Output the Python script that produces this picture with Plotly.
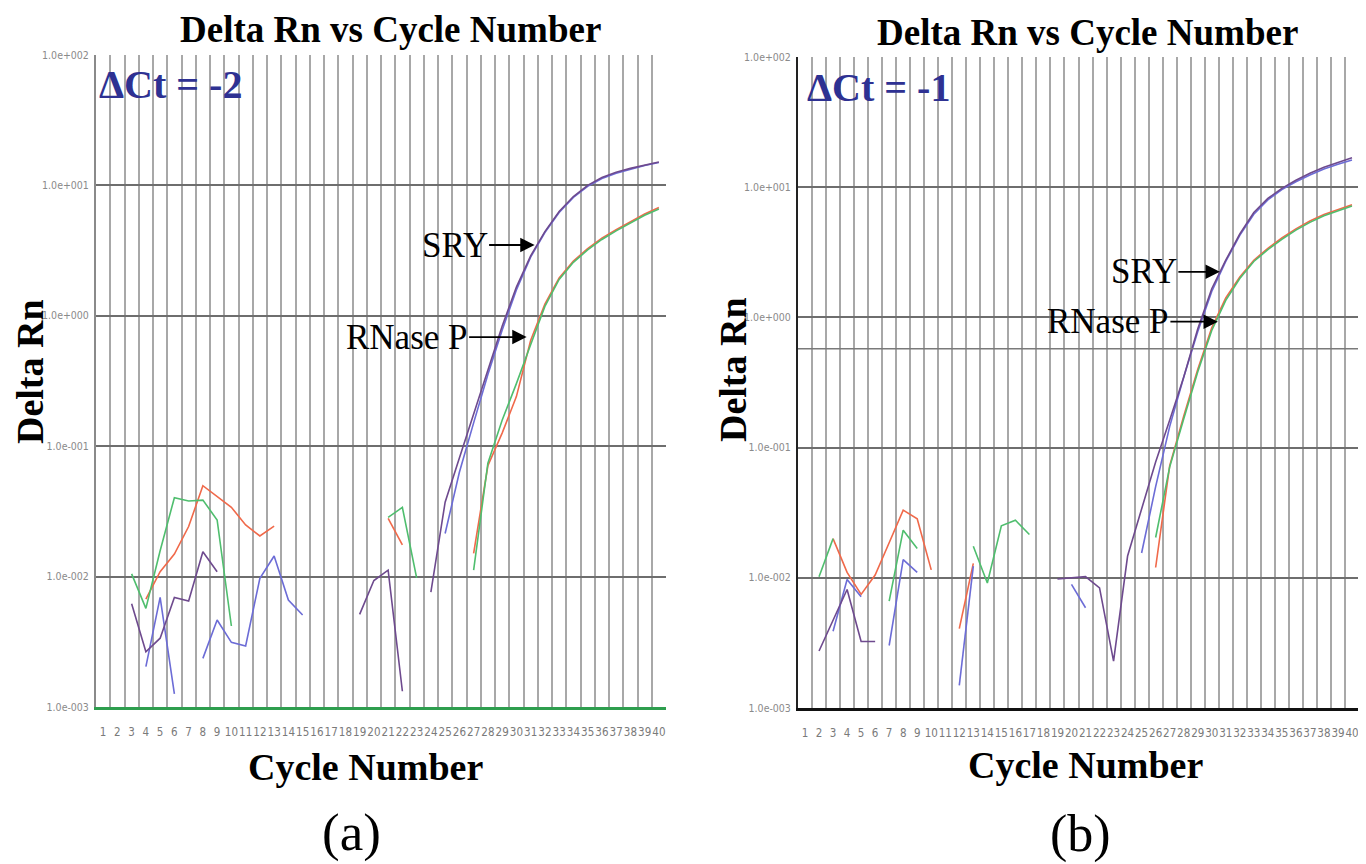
import math
import plotly.graph_objects as go

# ---------------- data (Delta Rn per cycle, None = not plotted) ----------------
cycles = list(range(1, 41))
N = None

# panel (a)  ΔCt = -2
a_sry1 = [N, N, 0.0062, 0.00265, 0.00337, 0.00693, 0.0065, 0.0155, 0.0109, N,
          N, N, N, N, N, N, N, N, 0.00513, 0.00933,
          0.0112, 0.00132, N, 0.00759, 0.0372, 0.0813, 0.178, 0.389, 0.832, 1.66,
          2.88, 4.42, 6.31, 8.22, 10.0, 11.5, 12.6, 13.5, 14.35, 15.1]
a_sry2 = [N, N, N, 0.00204, 0.00693, 0.00126, N, 0.00236, 0.00465, 0.00313,
          0.00294, 0.0097, 0.0144, 0.00662, 0.00508, N, N, N, N, N,
          N, N, N, N, 0.0214, 0.0631, 0.151, 0.355, 0.776, 1.58,
          2.82, 4.35, 6.2, 8.1, 9.85, 11.3, 12.4, 13.3, 14.2, 14.96]
a_rnp1 = [N, N, N, 0.00673, 0.0109, 0.0149, 0.0242, 0.0498, 0.041, 0.034,
          0.0249, 0.0205, 0.0244, N, N, N, N, N, N, N,
          0.028, 0.0175, N, N, N, N, 0.0151, 0.0708, 0.126, 0.24,
          0.646, 1.23, 1.95, 2.63, 3.27, 3.94, 4.57, 5.25, 6.03, 6.76]
a_rnp2 = [N, N, 0.0105, 0.00571, 0.0158, 0.0403, 0.038, 0.0386, 0.0272, 0.00418,
          N, N, N, N, N, N, N, N, N, N,
          0.0285, 0.0339, 0.00977, N, N, N, 0.0112, 0.0741, 0.158, 0.302,
          0.60, 1.18, 1.9, 2.57, 3.2, 3.85, 4.48, 5.15, 5.9, 6.6]

# panel (b)  ΔCt = -1
b_sry1 = [N, 0.00274, 0.00468, 0.00813, 0.00324, 0.00324, N, N, N, N,
          N, N, N, N, N, N, N, N, 0.0098, 0.0100,
          0.0102, 0.00837, 0.00229, 0.0147, 0.0334, 0.0776, 0.162, 0.347, 0.813, 1.66,
          2.75, 4.37, 6.4, 8.2, 9.8, 11.3, 12.8, 14.2, 15.5, 16.8]
b_sry2 = [N, N, 0.00389, 0.0097, 0.00714, N, 0.00302, 0.0138, 0.011, N,
          N, 0.00149, 0.0123, N, N, N, N, N, N, 0.00891,
          0.00589, N, N, N, 0.0155, 0.0501, 0.145, 0.347, 0.776, 1.58,
          2.69, 4.27, 6.2, 8.0, 9.6, 11.0, 12.4, 13.8, 15.0, 16.2]
b_rnp1 = [N, N, 0.020, 0.011, 0.00745, 0.0105, 0.0186, 0.0331, 0.0284, 0.0115,
          N, 0.00407, 0.0129, N, N, N, N, N, N, N,
          N, N, N, N, N, 0.012, 0.0724, 0.174, 0.398, 0.832,
          1.41, 2.04, 2.75, 3.39, 4.07, 4.79, 5.5, 6.17, 6.76, 7.33]
b_rnp2 = [N, 0.0102, 0.020, N, N, N, 0.00661, 0.0232, 0.0168, N,
          N, N, 0.0175, 0.00912, 0.0251, 0.0277, 0.0215, N, N, N,
          N, N, N, N, N, 0.0204, 0.0708, 0.166, 0.38, 0.794,
          1.35, 1.99, 2.69, 3.31, 3.98, 4.68, 5.37, 6.03, 6.61, 7.16]

b_threshold = 0.575

ytick_vals = [0.001, 0.01, 0.1, 1, 10, 100]
ytick_text = ["1.0e-003", "1.0e-002", "1.0e-001", "1.0e+000", "1.0e+001", "1.0e+002"]

# ---------------- styling ----------------
C_PURPLE = "#6E4A8E"
C_BLUE = "#6C6CD6"
C_ORANGE = "#F0694A"
C_GREEN = "#4FBE6E"
SERIF = "Liberation Serif, Times New Roman, serif"
NARROW = "DejaVu Sans Condensed, Liberation Sans Narrow, Arial Narrow, sans-serif"

W, H = 1366, 864
OFF = 8  # page body margin


def px_x(p):
    return (p - OFF) / W


def px_y(p):
    return 1 - (p - OFF) / H


fig = go.Figure()

series_a = [(a_rnp1, C_ORANGE), (a_rnp2, C_GREEN), (a_sry2, C_BLUE), (a_sry1, C_PURPLE)]
series_b = [(b_rnp1, C_ORANGE), (b_rnp2, C_GREEN), (b_sry2, C_BLUE), (b_sry1, C_PURPLE)]

for vals, col in series_a:
    fig.add_trace(go.Scatter(x=cycles, y=vals, mode="lines", line=dict(color=col, width=1.6),
                             connectgaps=False, xaxis="x", yaxis="y", showlegend=False))
for vals, col in series_b:
    fig.add_trace(go.Scatter(x=cycles, y=vals, mode="lines", line=dict(color=col, width=1.6),
                             connectgaps=False, xaxis="x2", yaxis="y2", showlegend=False))

# threshold line in panel (b)
fig.add_trace(go.Scatter(x=[0.5, 40.5], y=[b_threshold, b_threshold], mode="lines",
                         line=dict(color="#7a7a7a", width=1.5), xaxis="x2", yaxis="y2",
                         showlegend=False, hoverinfo="skip"))

half = [c - 0.5 for c in cycles] + [40.5]


def xaxis(domain, anchor, linecolor, linewidth):
    return dict(domain=domain, anchor=anchor, range=[0.5, 40.5], tickmode="array",
                tickvals=cycles, ticktext=[str(c) for c in cycles], showgrid=False,
                zeroline=False, showline=True, linecolor=linecolor, linewidth=linewidth,
                ticks="", ticklabelstandoff=12, tickangle=0, automargin=False,
                tickfont=dict(family=NARROW, size=11.5, color="#7a7a7a"),
                minor=dict(tickmode="array", tickvals=half, showgrid=True,
                           gridcolor="#a8a8a8", gridwidth=1.5, ticks=""))


def yaxis(domain, anchor, linecolor):
    return dict(domain=domain, anchor=anchor, type="log", range=[-3, 2], tickmode="array",
                tickvals=ytick_vals, ticktext=ytick_text, showgrid=True,
                gridcolor="#6e6e6e", gridwidth=1.5, zeroline=False, showline=True,
                linecolor=linecolor, linewidth=2, ticks="", ticklabelstandoff=3,
                automargin=False,
                tickfont=dict(family=NARROW, size=10.5, color="#8a8a8a"))


fig.update_layout(
    width=W, height=H, margin=dict(l=0, r=0, t=0, b=0, autoexpand=False),
    paper_bgcolor="white", plot_bgcolor="white",
    xaxis=xaxis([px_x(96), px_x(666)], "y", "#2e9e4e", 3),
    yaxis=yaxis([px_y(707), px_y(55)], "x", "#8a8a8a"),
    xaxis2=xaxis([px_x(798), px_x(1359)], "y2", "#111111", 2.5),
    yaxis2=yaxis([px_y(708), px_y(57)], "x2", "#222222"),
)

ann = []


def txt(x, y, text, size, bold=False, color="black", angle=0, xanchor="center"):
    t = f"<b>{text}</b>" if bold else text
    ann.append(dict(x=px_x(x), y=px_y(y), xref="paper", yref="paper", text=t,
                    showarrow=False, textangle=angle, xanchor=xanchor, yanchor="middle",
                    borderpad=0, font=dict(family=SERIF, size=size, color=color)))


# titles
txt(390, 30, "Delta Rn vs Cycle Number", 37, bold=True)
txt(1087, 32, "Delta Rn vs Cycle Number", 37, bold=True)
# y titles
txt(30, 372, "Delta Rn", 38, bold=True, angle=-90)
txt(733, 370, "Delta Rn", 38, bold=True, angle=-90)
# x titles
txt(365, 767, "Cycle Number", 38, bold=True)
txt(1085, 765, "Cycle Number", 38, bold=True)
# panel labels
txt(351, 832, "(a)", 53)
txt(1080, 834, "(b)", 52)
# ΔCt labels
txt(98, 84, "ΔCt = -2", 40, bold=True, color="#2E3192", xanchor="left")
txt(806, 87, "ΔCt = -1", 40, bold=True, color="#2E3192", xanchor="left")


def arrow(xr, yr, xc, yval, text, ax):
    ann.append(dict(x=xc, y=math.log10(yval), xref=xr, yref=yr, text=text, showarrow=True,
                    ax=ax, ay=0, arrowhead=2, arrowsize=1.6, arrowwidth=1.8,
                    arrowcolor="black", font=dict(family=SERIF, size=35, color="black")))


arrow("x", "y", 31.28, 3.49, "SRY", -80)
arrow("x", "y", 30.72, 0.687, "RNase P", -120)
arrow("x2", "y2", 30.58, 2.24, "SRY", -76)
arrow("x2", "y2", 30.44, 0.927, "RNase P", -110)

fig.update_layout(annotations=ann)
fig.write_html("out.html")
